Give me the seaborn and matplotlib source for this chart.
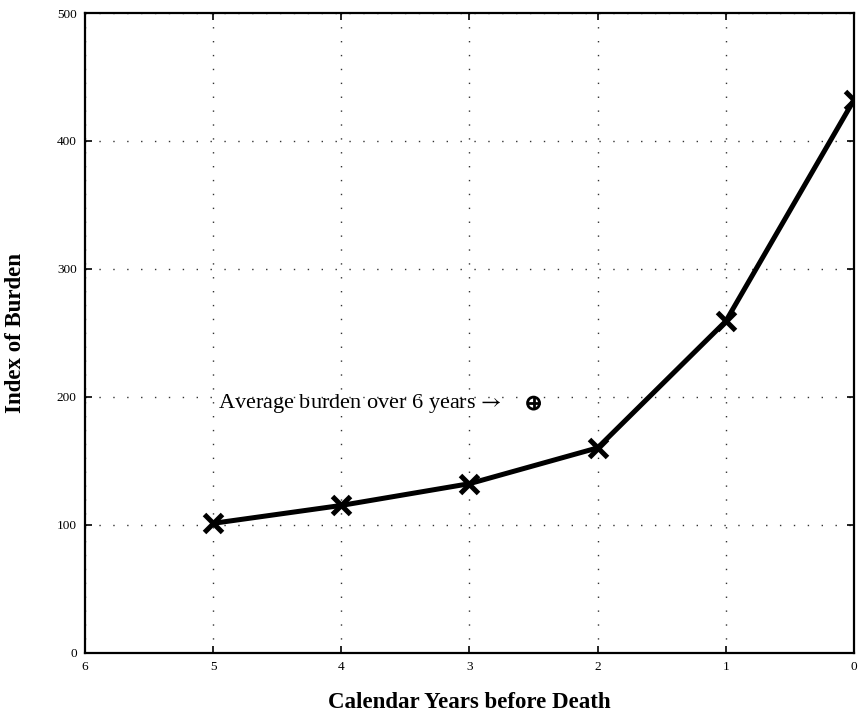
import matplotlib
matplotlib.use("Agg")
import matplotlib.pyplot as plt
import seaborn as sns
import pandas as pd

# values
years = [5, 4, 3, 2, 1, 0]
burden = [101, 115, 132, 160, 259, 432]
avg_year = [2.5]
avg_burden = [195]
x_ticks = [6, 5, 4, 3, 2, 1, 0]
y_ticks = [0, 100, 200, 300, 400, 500]

sns.set_style("ticks")
plt.rcParams['font.family'] = ['Liberation Serif', 'DejaVu Serif']
plt.rcParams['mathtext.fontset'] = 'stix'
plt.rcParams['text.color'] = 'black'
plt.rcParams['axes.labelcolor'] = 'black'
plt.rcParams['xtick.color'] = 'black'
plt.rcParams['ytick.color'] = 'black'

df = pd.DataFrame({"year": years, "burden": burden})
avg_df = pd.DataFrame({"year": avg_year, "burden": avg_burden})

fig = plt.figure(figsize=(8.63, 7.15), dpi=100)
ax = fig.add_axes([0.0985, 0.0874, 0.891, 0.8944])

sns.lineplot(data=df, x="year", y="burden", sort=False, ax=ax,
             color="black", linewidth=3.6, marker="x",
             markersize=13, markeredgewidth=3.6, markeredgecolor="black")

# average marker (circled plus)
sns.scatterplot(data=avg_df, x="year", y="burden", ax=ax, marker="o",
                s=75, facecolor="none", edgecolor="black", linewidth=2)
sns.scatterplot(data=avg_df, x="year", y="burden", ax=ax, marker="+",
                s=70, color="black", linewidth=2)

ax.text(2.75, avg_burden[0], "Average burden over 6 years$\\,\\rightarrow$",
        ha="right", va="center", fontsize=16)

ax.set_xlim(6, 0)
ax.set_ylim(0, 500)
ax.set_xticks(x_ticks)
ax.set_yticks(y_ticks)
ax.tick_params(direction="in", top=True, right=True, length=5, width=1.2,
               labelsize=9.5, pad=6)

ax.grid(True, color="0.2", linestyle=(0, (1, 9)), linewidth=1.0)

for sp in ax.spines.values():
    sp.set_linewidth(1.6)
    sp.set_edgecolor("black")
    sp.set_visible(True)

ax.set_xlabel("Calendar Years before Death", fontsize=16.5, fontweight="bold",
              labelpad=14)
ax.set_ylabel("Index of Burden", fontsize=16.5, fontweight="bold", labelpad=22)

fig.savefig("out.png", dpi=100)
